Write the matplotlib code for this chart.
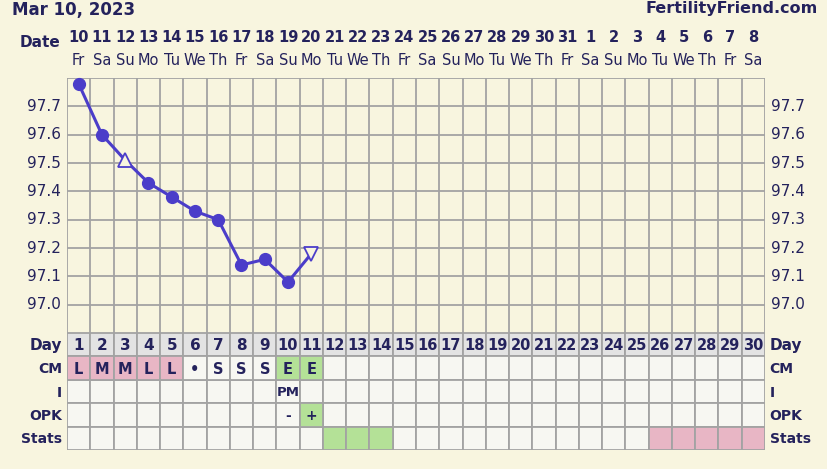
import matplotlib.pyplot as plt
import matplotlib.transforms as mtransforms
from matplotlib.patches import Rectangle

W, H = 828, 469

BG = "#F8F5DF"
NAVY = "#24225C"
LINE = "#4B3DC9"
GRID = "#A3A3A3"
CELL = "#F7F7F2"
DAYCELL = "#E3E3E3"
PINK = "#E8B6C5"
GREEN = "#B4E197"

# calendar
dates = [10, 11, 12, 13, 14, 15, 16, 17, 18, 19, 20, 21, 22, 23, 24, 25, 26,
         27, 28, 29, 30, 31, 1, 2, 3, 4, 5, 6, 7, 8]
weekdays = ["Fr", "Sa", "Su", "Mo", "Tu", "We", "Th"] * 4 + ["Fr", "Sa"]
cycle_days = list(range(1, 31))

# temperatures
temp_days = [1, 2, 3, 4, 5, 6, 7, 8, 9, 10, 11]
temps = [97.78, 97.60, 97.51, 97.43, 97.38, 97.33, 97.30, 97.14, 97.16, 97.08, 97.18]
temp_markers = ["o", "o", "^", "o", "o", "o", "o", "o", "o", "o", "v"]
temp_ticks = [97.0, 97.1, 97.2, 97.3, 97.4, 97.5, 97.6, 97.7]

# table rows
row_names = ["Day", "CM", "I", "OPK", "Stats"]
cm_days = [1, 2, 3, 4, 5, 6, 7, 8, 9, 10, 11]
cm_text = ["L", "M", "M", "L", "L", "•", "S", "S", "S", "E", "E"]
cm_colors = [PINK, PINK, PINK, PINK, PINK, CELL, CELL, CELL, CELL, GREEN, GREEN]
i_days = [10]
i_text = ["PM"]
opk_days = [10, 11]
opk_text = ["-", "+"]
opk_colors = [CELL, GREEN]
stats_green = [12, 13, 14]
stats_pink = [26, 27, 28, 29, 30]


def box(l, t, r, b):
    return [l / W, 1 - b / H, (r - l) / W, (b - t) / H]


fig = plt.figure(figsize=(W / 100, H / 100), dpi=100, facecolor=BG)

# ---- temperature chart ----
ax = fig.add_axes(box(67, 78, 765, 333))
ax.set_facecolor(BG)
ax.set_xlim(0.5, 30.5)
ax.set_ylim(96.9, 97.8)
for x in range(31):
    ax.axvline(x + 0.5, color=GRID, lw=1.3, zorder=1)
for k in range(10):
    ax.axhline(96.9 + k * 0.1, color=GRID, lw=1.3, zorder=1)
for s in ax.spines.values():
    s.set_visible(False)
ax.set_xticks([])
ax.set_yticks([])

ax.plot(temp_days, temps, color=LINE, lw=2.2, zorder=3, clip_on=False)
for d, t, m in zip(temp_days, temps, temp_markers):
    if m == "o":
        ax.plot(d, t, "o", color=LINE, ms=8.5, zorder=4, clip_on=False)
    else:
        ax.plot(d, t, m, mfc=BG, mec=LINE, mew=1.3, ms=9.5, zorder=4, clip_on=False)

for t in temp_ticks:
    ax.text(0.25, t, f"{t:.1f}", ha="right", va="center", fontsize=11, color=NAVY)
    ax.text(30.75, t, f"{t:.1f}", ha="left", va="center", fontsize=11, color=NAVY)

trans = mtransforms.blended_transform_factory(ax.transData, ax.transAxes)
for i, (d, wd) in enumerate(zip(dates, weekdays)):
    ax.text(i + 1, 1.158, str(d), transform=trans, ha="center", va="center",
            fontsize=10.5, fontweight="bold", color=NAVY)
    ax.text(i + 1, 1.07, wd, transform=trans, ha="center", va="center",
            fontsize=10.5, color=NAVY)
ax.text(0.2, 1.14, "Date", transform=trans, ha="right", va="center",
        fontsize=11, fontweight="bold", color=NAVY)

fig.text(12 / W, 1 - 10 / H, "Mar 10, 2023", ha="left", va="center",
         fontsize=12, fontweight="bold", color=NAVY)
fig.text(818 / W, 1 - 8 / H, "FertilityFriend.com", ha="right", va="center",
         fontsize=11.5, fontweight="bold", color=NAVY)

# ---- table ----
tb = fig.add_axes(box(67, 333, 765, 450))
tb.set_xlim(0.5, 30.5)
tb.set_ylim(5, 0)
tb.axis("off")


def cell(day, row, color):
    tb.add_patch(Rectangle((day - 0.5, row), 1, 1, facecolor=color,
                           edgecolor=GRID, lw=1.3, zorder=1))


def label(day, row, txt, size=11):
    tb.text(day, row + 0.55, txt, ha="center", va="center", fontsize=size,
            fontweight="bold", color=NAVY, zorder=3)


for d in cycle_days:
    cell(d, 0, DAYCELL)
    label(d, 0, str(d), 11 if d < 10 else 10.5)
    for r in range(1, 5):
        cell(d, r, CELL)

for d, t, c in zip(cm_days, cm_text, cm_colors):
    cell(d, 1, c)
    label(d, 1, t, 10.5)
for d, t in zip(i_days, i_text):
    label(d, 2, t, 9.5)
for d, t, c in zip(opk_days, opk_text, opk_colors):
    cell(d, 3, c)
    label(d, 3, t, 10)
for d in stats_green:
    cell(d, 4, GREEN)
for d in stats_pink:
    cell(d, 4, PINK)

for r, name in enumerate(row_names):
    tb.text(0.3, r + 0.55, name, ha="right", va="center", fontsize=11 if r == 0 else 10,
            fontweight="bold", color=NAVY)
    tb.text(30.7, r + 0.55, name, ha="left", va="center", fontsize=11 if r == 0 else 10,
            fontweight="bold", color=NAVY)

fig.savefig("out.png", dpi=100, facecolor=BG)
